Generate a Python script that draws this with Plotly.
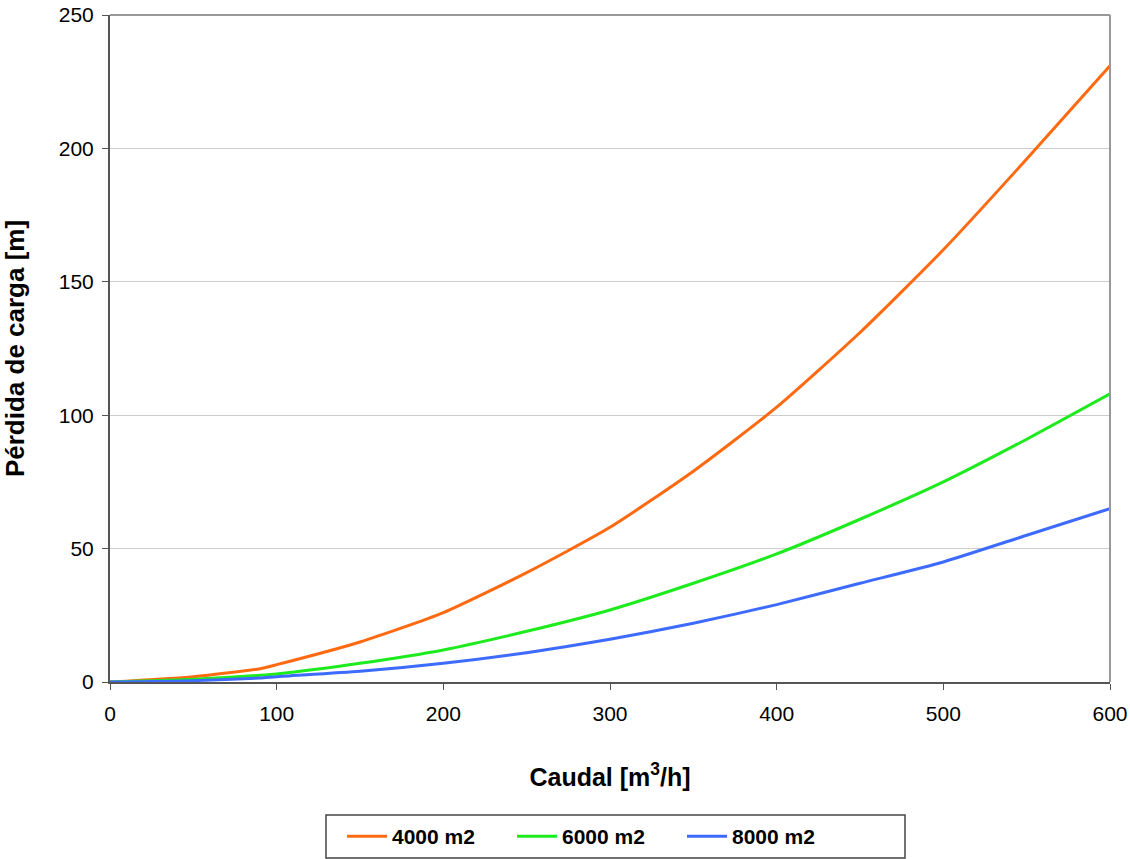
import plotly.graph_objects as go

# Caudal (m3/h) and pérdida de carga (m) for each filter surface
caudal = [0, 50, 90, 100, 150, 200, 250, 300, 350, 400, 450, 500, 550, 600]
perdida_4000 = [0, 2, 5, 6.5, 15, 26, 41, 58, 79, 103, 131, 162, 196, 231]
perdida_6000 = [0, 1, 2.5, 3, 7, 12, 19, 27, 37, 48, 61, 75, 91, 108]
perdida_8000 = [0, 0.5, 1.5, 2, 4, 7, 11, 16, 22, 29, 37, 45, 55, 65]

series = [
    ("4000 m2", perdida_4000, "#FF6A10"),
    ("6000 m2", perdida_6000, "#1EEB1E"),
    ("8000 m2", perdida_8000, "#3D6BFF"),
]

fig = go.Figure()
for name, vals, color in series:
    fig.add_trace(go.Scatter(
        x=caudal, y=vals, name=name, mode="lines",
        line=dict(color=color, width=3, shape="spline", smoothing=0.6),
    ))

font_family = "Liberation Sans, Arial, sans-serif"

fig.update_layout(
    width=1130, height=859,
    margin=dict(l=110, r=20, t=15, b=177, autoexpand=False),
    paper_bgcolor="white", plot_bgcolor="white",
    font=dict(family=font_family, color="black"),
    showlegend=True,
    legend=dict(
        orientation="h", x=0.232, xanchor="left", y=-0.201, yanchor="top",
        borderwidth=0, bgcolor="rgba(0,0,0,0)",
        font=dict(size=21, family=font_family, color="black", weight="bold"),
        entrywidth=115, entrywidthmode="pixels",
        itemwidth=40, tracegroupgap=0,
    ),
    xaxis=dict(
        range=[0, 600], tickvals=[0, 100, 200, 300, 400, 500, 600],
        automargin=False,
        showgrid=False, zeroline=False,
        showline=True, linecolor="#555", linewidth=2,
        ticks="outside", ticklen=6, tickcolor="#555", tickwidth=1,
        tickfont=dict(size=21), ticklabelstandoff=6,
        title=dict(text="Caudal [m<sup>3</sup>/h]", standoff=44,
                   font=dict(size=25, weight="bold")),
    ),
    yaxis=dict(
        range=[0, 250], tickvals=[0, 50, 100, 150, 200, 250],
        automargin=False,
        showgrid=True, gridcolor="#CCCCCC", gridwidth=1,
        zeroline=False,
        showline=True, linecolor="#555", linewidth=2,
        ticks="outside", ticklen=6, tickcolor="#555", tickwidth=1,
        tickfont=dict(size=21), ticklabelstandoff=4,
        title=dict(text="Pérdida de carga [m]", standoff=27,
                   font=dict(size=26, weight="bold")),
    ),
)

# Top and right frame of the plotting area
fig.add_shape(type="line", xref="paper", yref="paper", x0=0, x1=1, y0=1, y1=1,
              line=dict(color="#999", width=2))
fig.add_shape(type="line", xref="paper", yref="paper", x0=1, x1=1, y0=0, y1=1,
              line=dict(color="#999", width=2))

# Frame around the legend
fig.add_shape(type="rect", xref="paper", yref="paper",
              x0=0.216, x1=0.795, y0=-0.2639, y1=-0.1994,
              line=dict(color="#444", width=1.5), fillcolor="rgba(0,0,0,0)")

fig.write_html("out.html")
